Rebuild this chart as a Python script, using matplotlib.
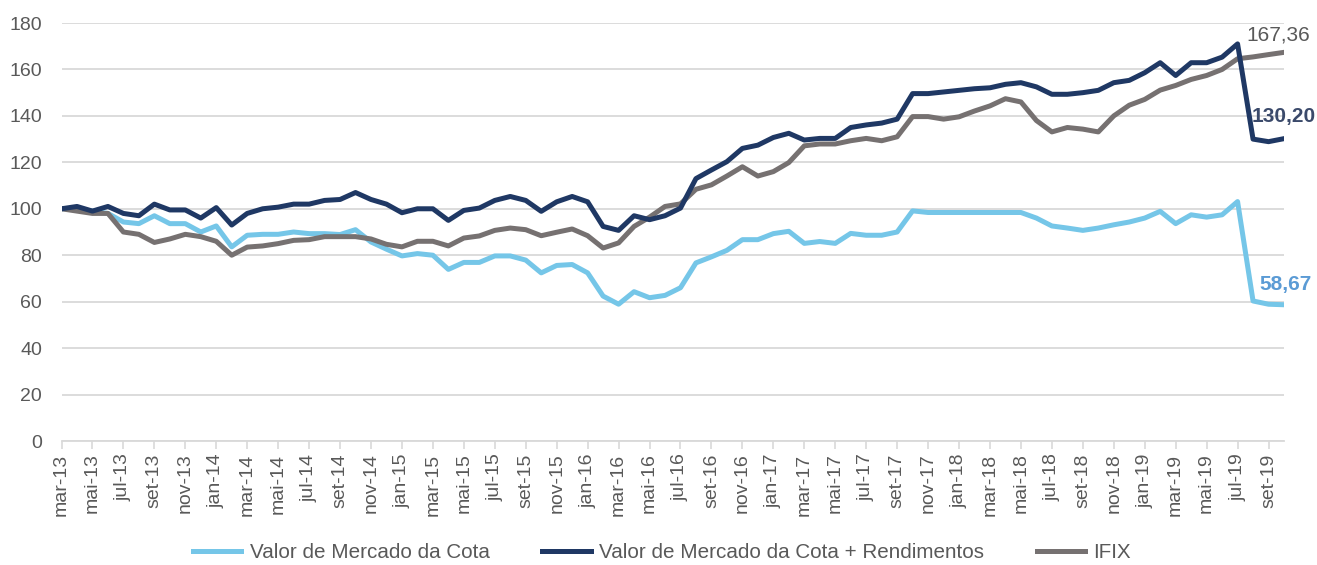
import matplotlib
matplotlib.use("Agg")
import matplotlib.pyplot as plt
from matplotlib.ticker import MultipleLocator

plt.rcParams['font.family'] = ['Liberation Sans', 'DejaVu Sans']

meses = ["jan", "fev", "mar", "abr", "mai", "jun", "jul", "ago", "set", "out", "nov", "dez"]
# monthly periods from mar-13 to out-19
periodos = []
for k in range(80):
    m = (2 + k) % 12
    a = 13 + (2 + k) // 12
    periodos.append(f"{meses[m]}-{a}")

cota = [100, 100, 99, 98, 94.3, 93.6, 97, 93.6, 93.6, 90, 92.6, 83.6, 88.6, 89, 89, 90,
        89.3, 89.3, 88.9, 91, 85.7, 82.6, 79.7, 80.7, 80, 73.9, 76.9, 76.9, 79.7, 79.7, 77.9, 72.4,
        75.6, 76, 72.4, 62.4, 58.9, 64.3, 61.7, 62.7, 66, 76.7, 79.3, 82.1, 86.7, 86.7, 89.3, 90.3,
        85.1, 85.9, 85.1, 89.4, 88.6, 88.6, 90, 99.1, 98.4, 98.4, 98.4, 98.4, 98.4, 98.4, 98.4, 96,
        92.6, 91.7, 90.7, 91.7, 93.1, 94.3, 96, 98.9, 93.6, 97.4, 96.4, 97.4, 103.1, 60.3, 58.9, 58.67]

cota_rend = [100, 101, 99, 101, 98, 97, 102, 99.5, 99.5, 96, 100.5, 93, 98, 100, 100.7, 102,
             102, 103.6, 104, 107, 104, 102, 98.3, 100, 100, 95, 99.3, 100.3, 103.6, 105.3, 103.6, 98.9,
             103, 105.3, 103, 92.4, 90.7, 97, 95.3, 97, 100.3, 113, 116.7, 120.3, 126, 127.4, 130.7, 132.5,
             129.6, 130.3, 130.3, 135, 136.1, 136.9, 138.6, 149.6, 149.6, 150.3, 151, 151.7, 152.1, 153.6, 154.3, 152.5,
             149.3, 149.3, 150, 151, 154.3, 155.3, 158.6, 162.9, 157.4, 162.9, 162.9, 165.3, 171, 130, 128.9, 130.2]

ifix = [100, 99, 98, 98, 90, 89, 85.5, 87, 89, 88, 86, 80, 83.5, 84, 85, 86.4,
        86.7, 88, 88, 88, 87, 84.7, 83.6, 86, 86, 84, 87.4, 88.3, 90.7, 91.7, 91, 88.4,
        89.9, 91.3, 88.4, 83.1, 85.3, 92.4, 96.4, 101, 102.1, 108.4, 110.3, 114.1, 118.1, 114.1, 116, 119.9,
        127.1, 127.9, 127.9, 129.3, 130.3, 129.3, 131, 139.7, 139.7, 138.6, 139.6, 142.1, 144.3, 147.4, 146, 138,
        133.1, 135, 134.3, 133.1, 140, 144.6, 147.1, 151.1, 153.1, 155.7, 157.4, 160, 164.6, 165.4, 166.4, 167.36]

c_cota = "#75C6E8"
c_rend = "#1F3864"
c_ifix = "#767171"
c_text = "#595959"

fig = plt.figure(figsize=(13.17, 5.65), dpi=100)
ax = fig.add_axes([61.5 / 1317, (565 - 441) / 565, (1284 - 61.5) / 1317, (441 - 23) / 565])

x = list(range(len(periodos)))
lw = 3.6
ax.plot(x, cota, color=c_cota, lw=lw, label="Valor de Mercado da Cota", solid_joinstyle="round", zorder=3)
ax.plot(x, cota_rend, color=c_rend, lw=lw, label="Valor de Mercado da Cota + Rendimentos", solid_joinstyle="round", zorder=4)
ax.plot(x, ifix, color=c_ifix, lw=lw, label="IFIX", solid_joinstyle="round", zorder=3)

ax.set_xlim(0, len(periodos) - 1)
ax.set_ylim(0, 180)
ax.yaxis.set_major_locator(MultipleLocator(20))
ax.grid(axis="y", color="#D9D9D9", lw=1.3, zorder=0)
ax.set_axisbelow(True)

ax.set_xticks(x[::2])
ax.set_xticklabels(periodos[::2], rotation=90, fontsize=14, color=c_text)
ax.tick_params(axis="x", length=6, width=1.2, color="#D9D9D9", pad=3)
ax.tick_params(axis="y", length=0, labelsize=14, labelcolor=c_text, pad=14)
for s in ["top", "right", "left"]:
    ax.spines[s].set_visible(False)
ax.spines["bottom"].set_color("#D9D9D9")
ax.spines["bottom"].set_linewidth(1.3)

fs = 15
ax.annotate(f"{ifix[-1]:.2f}".replace(".", ","), xy=(x[-1], ifix[-1]), xytext=(-27, 12.5),
            textcoords="offset points", fontsize=fs, color=c_text, ha="left", va="center",
            annotation_clip=False)
ax.annotate(f"{cota_rend[-1]:.2f}".replace(".", ","), xy=(x[-1], cota_rend[-1]), xytext=(-23, 16),
            textcoords="offset points", fontsize=fs, color="#3B4A6B", fontweight="bold", ha="left", va="center",
            annotation_clip=False)
ax.annotate(f"{cota[-1]:.2f}".replace(".", ","), xy=(x[-1], cota[-1]), xytext=(-18, 14.5),
            textcoords="offset points", fontsize=fs, color="#5B9BD5", fontweight="bold", ha="left", va="center",
            annotation_clip=False)

fig.legend(loc="center", bbox_to_anchor=(662 / 1317, 1 - 553 / 565), ncol=3, frameon=False,
           fontsize=14.9, labelcolor=c_text, handlelength=2.33, columnspacing=2.55, handletextpad=0.4)

fig.savefig("out.png", dpi=100)
